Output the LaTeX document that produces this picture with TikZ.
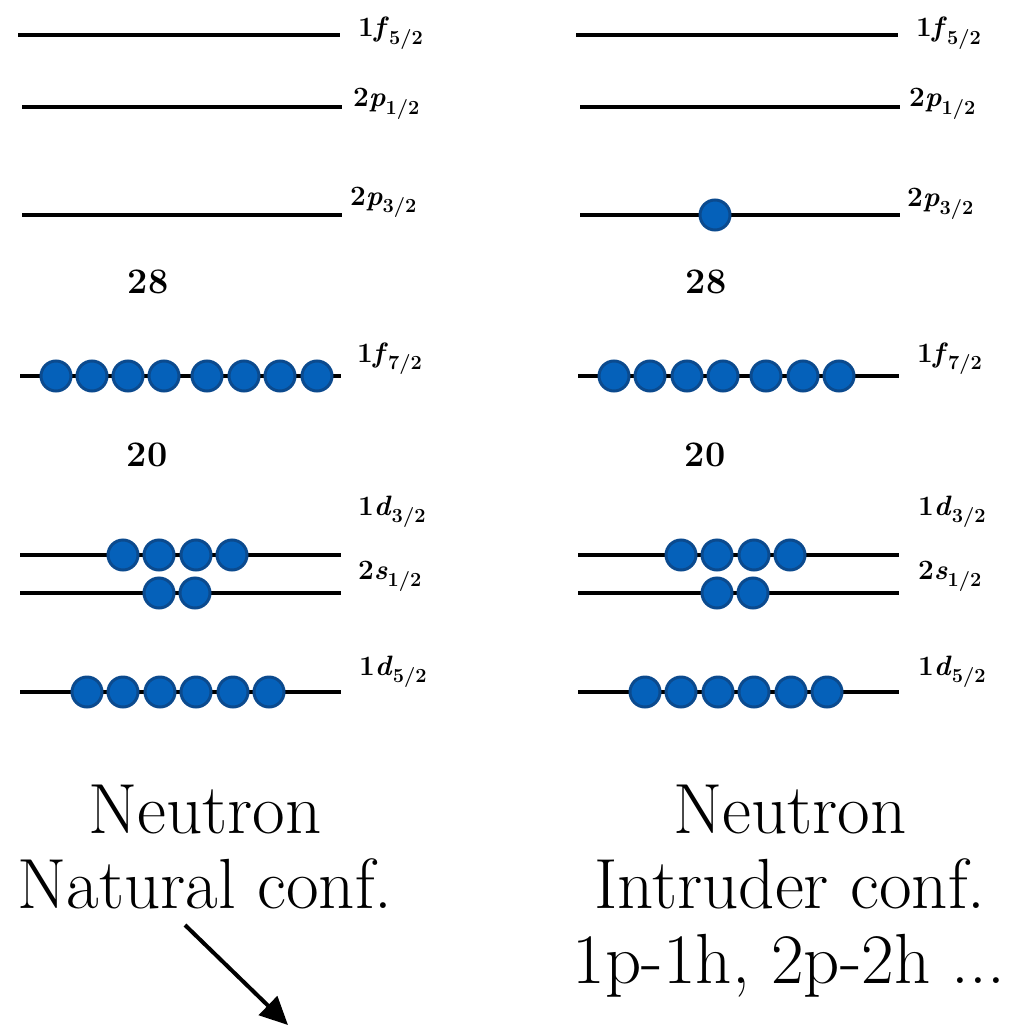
\documentclass[tikz,border=0pt]{standalone}
\usetikzlibrary{arrows.meta}
\definecolor{pfill}{HTML}{0561BA}
\definecolor{pdraw}{HTML}{0B4A8E}
\newcommand\orb[3]{#1\textit{#2}\raisebox{-0.28em}{\fontsize{20}{20}\selectfont #3}}
\tikzset{
  lvl/.style={line width=4pt, black},
  part/.style={circle, fill=pfill, draw=pdraw, line width=3pt, minimum size=30pt, inner sep=0pt},
  lab/.style={font=\fontsize{28}{30}\selectfont\bfseries, anchor=base west, inner sep=0pt},
  magic/.style={font=\fontsize{36}{42}\selectfont\bfseries, anchor=base, inner sep=0pt},
  captext/.style={font=\fontsize{71}{79}\selectfont, anchor=base, inner sep=0pt},
  arr/.style={line width=4pt, -{Triangle[length=28pt,width=26pt]}}
}
\begin{document}
\begin{tikzpicture}[x=1pt,y=-1pt]
\useasboundingbox (0,0) rectangle (1018,1027);
% levels
\foreach \y/\xa/\xb in {35/18/340, 107/22/342, 215/22/342, 376/20/341, 555/20/341, 593/20/341, 692/20/341} {
  \draw[lvl] (\xa,\y) -- (\xb,\y);
  \draw[lvl] (\xa+558,\y) -- (\xb+558,\y);
}
% particles left
\foreach \x [count=\i] in {56,92,128,164,207,244,280,317} \node[part] (Lf\i) at (\x,376) {};
\foreach \x [count=\i] in {123,159,196,232} \node[part] (Ld\i) at (\x,555) {};
\foreach \x [count=\i] in {159,195} \node[part] (Ls\i) at (\x,593) {};
\foreach \x [count=\i] in {87,123,160,196,233,269} \node[part] (Le\i) at (\x,692) {};
% particles right
\node[part] (Rp1) at (715,215) {};
\foreach \x [count=\i] in {614,650,687,723,766,803,839} \node[part] (Rf\i) at (\x,376) {};
\foreach \x [count=\i] in {681,717,754,790} \node[part] (Rd\i) at (\x,555) {};
\foreach \x [count=\i] in {717,753} \node[part] (Rs\i) at (\x,593) {};
\foreach \x [count=\i] in {645,681,718,754,791,827} \node[part] (Re\i) at (\x,692) {};
% labels left
\node[lab] (lf52) at (358,37) {\orb{1}{f}{5/2}};
\node[lab] (lp12) at (353,107) {\orb{2}{p}{1/2}};
\node[lab] (lp32) at (350,205) {\orb{2}{p}{3/2}};
\node[lab] (lf72) at (357,362) {\orb{1}{f}{7/2}};
\node[lab] (ld32) at (358,515) {\orb{1}{d}{3/2}};
\node[lab] (ls12) at (358,579) {\orb{2}{s}{1/2}};
\node[lab] (ld52) at (359,675) {\orb{1}{d}{5/2}};
% labels right
\node[lab] (rf52) at (916,37) {\orb{1}{f}{5/2}};
\node[lab] (rp12) at (909,107) {\orb{2}{p}{1/2}};
\node[lab] (rp32) at (907,207) {\orb{2}{p}{3/2}};
\node[lab] (rf72) at (917,362) {\orb{1}{f}{7/2}};
\node[lab] (rd32) at (918,515) {\orb{1}{d}{3/2}};
\node[lab] (rs12) at (918,579) {\orb{2}{s}{1/2}};
\node[lab] (rd52) at (918,675) {\orb{1}{d}{5/2}};
% magic numbers
\node[magic] (m28l) at (148,293) {28};
\node[magic] (m28r) at (706,293) {28};
\node[magic] (m20l) at (147,466) {20};
\node[magic] (m20r) at (705,466) {20};
% captions
\node[captext] (c1) at (205,833) {Neutron};
\node[captext] (c2) at (205,908) {Natural conf.};
\node[captext] (c3) at (790,833) {Neutron};
\node[captext] (c4) at (790,908) {Intruder conf.};
\node[captext] (c5) at (789,983) {1p-1h, 2p-2h ...};
% arrow
\coordinate (a1) at (185,925);
\coordinate (a2) at (288,1025);
\draw[arr] (a1) -- (a2);
\end{tikzpicture}
\end{document}
